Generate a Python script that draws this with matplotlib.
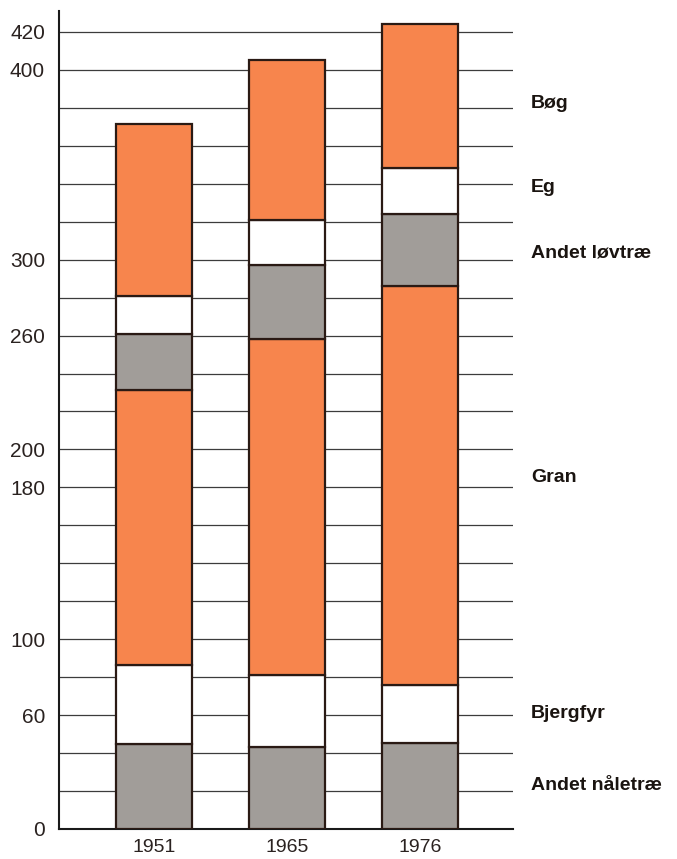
import matplotlib.pyplot as plt
import numpy as np

# Data
years = ["1951", "1965", "1976"]
categories = ["Andet nåletræ", "Bjergfyr", "Gran", "Andet løvtræ", "Eg", "Bøg"]
values = {
    "Andet nåletræ": [45, 43, 45.5],
    "Bjergfyr":      [41.5, 38, 30.5],
    "Gran":          [145, 177, 210],
    "Andet løvtræ":  [29.5, 39, 38],
    "Eg":            [20, 24, 24.5],
    "Bøg":           [90.5, 84, 75.5],
}
tick_values = [0, 60, 100, 180, 200, 260, 300, 400, 420]
label_y = [23, 61, 185, 303.6, 338, 382]   # where the side labels sit

ORANGE = "#f7854d"
GREY = "#a19d99"
colors = [GREY, "white", ORANGE, GREY, "white", ORANGE]

plt.rcParams["font.family"] = ["Liberation Sans", "DejaVu Sans"]

fig = plt.figure(figsize=(6.77, 8.59), dpi=100)
ax = fig.add_axes([59 / 677, 30 / 859, 454 / 677, 818 / 859])

x = np.arange(len(years))
bottom = np.zeros(len(years))
for cat, col in zip(categories, colors):
    vals = np.array(values[cat])
    ax.bar(x, vals, bottom=bottom, width=0.57, color=col,
           edgecolor="#2a1a14", linewidth=1.6, zorder=3)
    bottom += vals

# horizontal grid every 20
for yv in range(20, 421, 20):
    ax.axhline(yv, color="#3c3c3c", linewidth=0.9, zorder=1)

ax.set_xlim(-0.714, 2.70)
ax.set_ylim(0, 431)
ax.set_yticks(tick_values)
ax.set_yticklabels([str(v) for v in tick_values], fontsize=15, color="#2a2220")
ax.set_xticks(x)
ax.set_xticklabels(years, fontsize=14, color="#2a2220")
ax.tick_params(axis="y", length=0, pad=10)
ax.tick_params(axis="x", length=0, pad=7)

for s in ["top", "right"]:
    ax.spines[s].set_visible(False)
ax.spines["left"].set_linewidth(1.5)
ax.spines["bottom"].set_linewidth(1.5)
ax.spines["left"].set_color("#1a1a1a")
ax.spines["bottom"].set_color("#1a1a1a")

for cat, yv in zip(categories, label_y):
    ax.text(2.835, yv, cat, fontsize=14, fontweight="bold", color="#1a1410",
            va="center", ha="left", clip_on=False)

fig.savefig("out.png", dpi=100)
